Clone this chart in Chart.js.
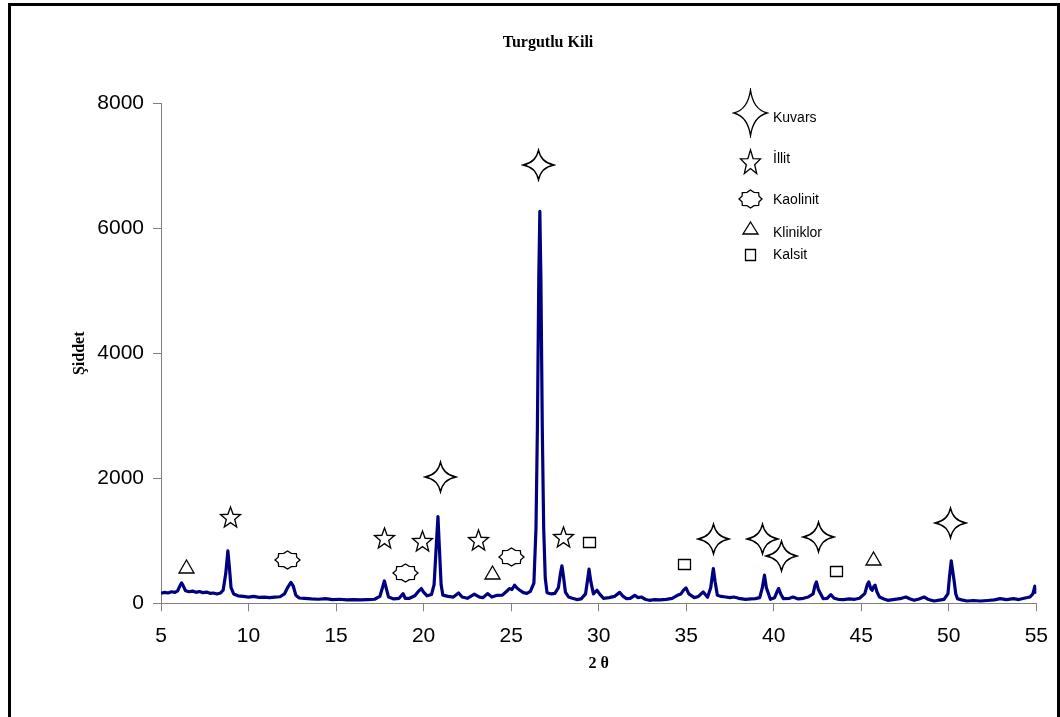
<!DOCTYPE html>
<html>
<head>
  <meta charset="utf-8">
  <title>Turgutlu Kili</title>
  <style>
    body {
      margin: 0;
      background: #fff;
    }
    .wrap {
      position: relative;
      width: 1060px;
      height: 717px;
      overflow: hidden;
    }
    #xrd {
      position: absolute;
      left: 0;
      top: 0;
    }
    .frame {
      position: absolute;
      left: 8px;
      top: 3px;
      width: 1046px;
      height: 730px;
      border: 3px solid #000;
      pointer-events: none;
    }
  </style>
</head>
<body>
  <div class="wrap">
    <canvas id="xrd" width="1060" height="717"></canvas>
    <div class="frame"></div>
  </div>

  <script src="https://cdn.jsdelivr.net/npm/chart.js"></script>
  <script>
    // Diffraktogramm
    const twoTheta = [
      5.0, 5.2, 5.4, 5.6, 5.8, 5.95, 6.1, 6.17, 6.25, 6.4, 6.6, 6.8, 7.0, 7.2, 7.4, 7.6, 7.8, 8.0, 8.2, 8.4,
      8.55, 8.7, 8.82, 8.9, 9.0, 9.15, 9.4, 9.7, 10.0, 10.3, 10.6, 10.9, 11.2, 11.5, 11.8, 12.05, 12.25, 12.42, 12.55, 12.7,
      12.9, 13.2, 13.6, 14.0, 14.4, 14.8, 15.2, 15.6, 16.0, 16.4, 16.8, 17.2, 17.5, 17.65, 17.76, 17.85, 18.0, 18.3, 18.6, 18.83,
      18.95, 19.2, 19.5, 19.7, 19.87, 20.0, 20.2, 20.45, 20.6, 20.72, 20.82, 20.9, 21.0, 21.1, 21.4, 21.7, 22.0, 22.2, 22.5, 22.9,
      23.2, 23.4, 23.65, 23.9, 24.2, 24.5, 24.7, 24.9, 25.05, 25.2, 25.35, 25.5, 25.7, 25.9, 26.1, 26.3, 26.42, 26.5, 26.58, 26.64,
      26.7, 26.78, 26.86, 26.95, 27.05, 27.3, 27.5, 27.7, 27.82, 27.9, 27.98, 28.1, 28.28, 28.5, 28.75, 29.0, 29.25, 29.38, 29.45, 29.55,
      29.7, 29.9, 30.05, 30.27, 30.6, 30.9, 31.2, 31.4, 31.59, 31.8, 32.06, 32.25, 32.44, 32.7, 32.9, 33.2, 33.5, 33.86, 34.2, 34.5,
      34.7, 34.85, 34.99, 35.15, 35.46, 35.7, 35.97, 36.22, 36.4, 36.55, 36.65, 36.78, 37.0, 37.25, 37.5, 37.72, 38.0, 38.39, 38.7, 38.95,
      39.2, 39.35, 39.47, 39.58, 39.81, 40.05, 40.18, 40.28, 40.4, 40.55, 40.9, 41.1, 41.4, 41.7, 41.97, 42.25, 42.35, 42.44, 42.55, 42.82,
      43.05, 43.26, 43.45, 43.68, 44.0, 44.3, 44.63, 44.9, 45.2, 45.35, 45.43, 45.55, 45.62, 45.72, 45.79, 45.9, 46.04, 46.3, 46.51, 46.8,
      47.1, 47.3, 47.55, 47.8, 48.03, 48.3, 48.59, 48.85, 49.16, 49.45, 49.73, 49.95, 50.05, 50.14, 50.22, 50.3, 50.4, 50.49, 50.8, 51.05,
      51.4, 51.8, 52.2, 52.6, 52.93, 53.3, 53.7, 54.0, 54.3, 54.64, 54.8, 54.92, 55.0
    ];
    const intensity = [
      160, 175, 165, 185, 175, 200, 290, 326, 290, 200, 185, 195, 175, 190, 170, 180, 160, 165, 150, 165,
      210, 480, 840, 600, 250, 150, 120, 110, 100, 110, 95, 100, 90, 100, 105, 150, 260, 335, 280, 130,
      85, 80, 70, 65, 75, 60, 65, 55, 60, 55, 60, 65, 110, 250, 358, 260, 100, 70, 80, 155,
      80, 80, 120, 190, 236, 180, 120, 140, 300, 900, 1386, 900, 300, 130, 110, 100, 165, 100, 80, 145,
      100, 90, 155, 100, 128, 130, 180, 236, 220, 290, 240, 209, 170, 160, 190, 321, 1200, 2800, 5200, 6270,
      5200, 2800, 1200, 400, 170, 150, 160, 250, 480, 600, 450, 180, 101, 80, 60, 70, 150, 400, 546, 350,
      150, 209, 150, 80, 90, 110, 175, 110, 75, 80, 128, 90, 101, 60, 48, 60, 55, 64, 80, 128,
      150, 210, 246, 150, 91, 110, 182, 96, 250, 557, 350, 128, 110, 101, 90, 101, 80, 64, 70, 75,
      90, 250, 450, 250, 64, 90, 180, 236, 150, 75, 80, 100, 70, 80, 101, 150, 280, 342, 220, 75,
      80, 139, 80, 64, 60, 70, 64, 80, 155, 300, 342, 230, 209, 270, 289, 180, 101, 70, 48, 60,
      70, 80, 101, 70, 48, 70, 101, 60, 37, 50, 64, 150, 450, 680, 520, 370, 150, 75, 50, 37,
      45, 37, 45, 55, 75, 60, 75, 60, 80, 101, 150, 273, 155
    ];

    // Mineral-Markierungen (2θ, Höhe)
    const kuvarsX = [20.98, 26.59, 36.57, 39.34, 40.42, 42.57, 50.11];
    const kuvarsY = [2021, 7013, 1029, 1029, 757, 1061, 1285];
    const illitX = [8.97, 17.75, 19.96, 23.13, 28.01];
    const illitY = [1365, 1029, 981, 997, 1045];
    const kaolinitX = [12.25, 18.94, 25.0];
    const kaolinitY = [693, 485, 741];
    const kliniklorX = [6.47, 23.93, 45.69];
    const kliniklorY = [581, 485, 709];
    const kalsitX = [29.42, 34.87, 43.53];
    const kalsitY = [981, 634, 517];

    const legendLabels = ['Kuvars', 'İllit', 'Kaolinit', 'Kliniklor', 'Kalsit'];
    const xTicks = [5, 10, 15, 20, 25, 30, 35, 40, 45, 50, 55];
    const yTicks = [0, 2000, 4000, 6000, 8000];

    // Symbole als kleine Canvas-Bilder
    function makeShape(kind, w, h) {
      const c = document.createElement('canvas');
      c.width = w + 4;
      c.height = h + 4;
      const g = c.getContext('2d');
      const cx = c.width / 2, cy = c.height / 2;
      const rx = w / 2, ry = h / 2;
      g.beginPath();
      if (kind === 'kuvars') {
        const kx = rx * 0.16, ky = ry * 0.16;
        g.moveTo(cx, cy - ry);
        g.quadraticCurveTo(cx + kx, cy - ky, cx + rx, cy);
        g.quadraticCurveTo(cx + kx, cy + ky, cx, cy + ry);
        g.quadraticCurveTo(cx - kx, cy + ky, cx - rx, cy);
        g.quadraticCurveTo(cx - kx, cy - ky, cx, cy - ry);
      } else if (kind === 'illit') {
        for (let i = 0; i < 10; i++) {
          const a = -Math.PI / 2 + i * Math.PI / 5;
          const r = i % 2 === 0 ? 1 : 0.42;
          const px = cx + Math.cos(a) * rx * r;
          const py = cy + 0.5 + Math.sin(a) * ry * r * 1.05;
          if (i === 0) g.moveTo(px, py); else g.lineTo(px, py);
        }
      } else if (kind === 'kaolinit') {
        for (let i = 0; i < 16; i++) {
          const a = i * Math.PI / 8;
          const r = i % 2 === 0 ? 1 : 0.8;
          const px = cx + Math.cos(a) * rx * r;
          const py = cy + Math.sin(a) * ry * r;
          if (i === 0) g.moveTo(px, py); else g.lineTo(px, py);
        }
      } else if (kind === 'kliniklor') {
        g.moveTo(cx, cy - ry);
        g.lineTo(cx + rx, cy + ry);
        g.lineTo(cx - rx, cy + ry);
      } else {
        g.rect(Math.round(cx - rx) + 0.5, Math.round(cy - ry) + 0.5, w, h);
      }
      g.closePath();
      g.fillStyle = '#fff';
      g.fill();
      g.lineWidth = 1.3;
      g.strokeStyle = '#000';
      g.stroke();
      return c;
    }

    const symKuvars = makeShape('kuvars', 31, 30);
    const symIllit = makeShape('illit', 21, 21);
    const symKaolinit = makeShape('kaolinit', 25, 18);
    const symKliniklor = makeShape('kliniklor', 15, 13);
    const symKalsit = makeShape('kalsit', 12, 10);

    const legendSyms = [
      makeShape('kuvars', 33, 46),
      makeShape('illit', 21, 25),
      makeShape('kaolinit', 23, 18),
      makeShape('kliniklor', 15, 12),
      makeShape('kalsit', 10, 11)
    ];

    function pts(xs, ys) {
      return xs.map((x, i) => ({ x: x, y: ys[i] }));
    }

    function markerSet(xs, ys, sym) {
      return {
        type: 'scatter',
        data: pts(xs, ys),
        pointStyle: sym,
        pointRadius: 10,
        showLine: false
      };
    }

    // Bilder ohne Glättung zeichnen, sonst werden die Symbole grau
    const sharpPlugin = {
      id: 'scharf',
      beforeDatasetsDraw(chart) {
        chart.ctx.imageSmoothingEnabled = false;
      }
    };

    // Titel, Achsentitel und Legende selbst zeichnen
    const textPlugin = {
      id: 'texte',
      afterDraw(chart) {
        const ctx = chart.ctx;
        const area = chart.chartArea;
        ctx.save();
        ctx.fillStyle = '#000';
        ctx.font = 'bold 16px "Liberation Serif", "Times New Roman", serif';
        ctx.textAlign = 'center';
        ctx.textBaseline = 'alphabetic';
        ctx.fillText('Turgutlu Kili', 548, 47);

        ctx.fillText('2 θ', (area.left + area.right) / 2, 668);

        ctx.translate(80, (area.top + area.bottom) / 2);
        ctx.rotate(-Math.PI / 2);
        ctx.textBaseline = 'middle';
        ctx.fillText('Şiddet', 0, 0);
        ctx.restore();

        // Legende
        const symY = [113, 162, 199, 228, 254];
        const txtY = [118, 159, 200, 233, 255];
        ctx.save();
        ctx.imageSmoothingEnabled = false;
        ctx.font = '14px "Liberation Sans", Arial, sans-serif';
        ctx.fillStyle = '#000';
        ctx.textBaseline = 'middle';
        ctx.textAlign = 'left';
        legendSyms.forEach((s, i) => {
          ctx.drawImage(s, Math.round(750 - s.width / 2), Math.round(symY[i] - s.height / 2));
          ctx.fillText(legendLabels[i], 773, txtY[i]);
        });
        ctx.restore();
      }
    };

    const tickFont = { family: '"Liberation Sans", Arial, sans-serif', size: 21 };

    new Chart(document.getElementById('xrd'), {
      type: 'line',
      data: {
        datasets: [
          {
            data: pts(twoTheta, intensity),
            borderColor: '#000080',
            borderWidth: 3.2,
            pointRadius: 0,
            tension: 0,
            borderJoinStyle: 'round',
            fill: false
          },
          markerSet(kuvarsX, kuvarsY, symKuvars),
          markerSet(illitX, illitY, symIllit),
          markerSet(kaolinitX, kaolinitY, symKaolinit),
          markerSet(kliniklorX, kliniklorY, symKliniklor),
          markerSet(kalsitX, kalsitY, symKalsit)
        ]
      },
      options: {
        responsive: false,
        animation: false,
        events: [],
        layout: { padding: { left: 0, right: 16.7, top: 103.3, bottom: 0 } },
        plugins: {
          legend: { display: false },
          tooltip: { enabled: false },
          title: { display: false }
        },
        scales: {
          x: {
            type: 'linear',
            min: 5,
            max: 55,
            afterBuildTicks(scale) {
              scale.ticks = xTicks.map(v => ({ value: v }));
            },
            afterFit(scale) { scale.height = 717 - 603.3; },
            grid: {
              drawOnChartArea: false,
              drawTicks: true,
              tickLength: 8,
              color: '#808080'
            },
            border: { color: '#808080', width: 1 },
            ticks: { color: '#000', font: tickFont, padding: 12, maxRotation: 0, callback: v => String(v) }
          },
          y: {
            min: 0,
            max: 8000,
            afterBuildTicks(scale) {
              scale.ticks = yTicks.map(v => ({ value: v }));
            },
            afterFit(scale) { scale.width = 161; },
            grid: {
              drawOnChartArea: false,
              drawTicks: true,
              tickLength: 8,
              color: '#808080'
            },
            border: { color: '#808080', width: 1 },
            ticks: { color: '#000', font: tickFont, padding: 9, callback: v => String(v) }
          }
        }
      },
      plugins: [sharpPlugin, textPlugin]
    });
  </script>
</body>
</html>
